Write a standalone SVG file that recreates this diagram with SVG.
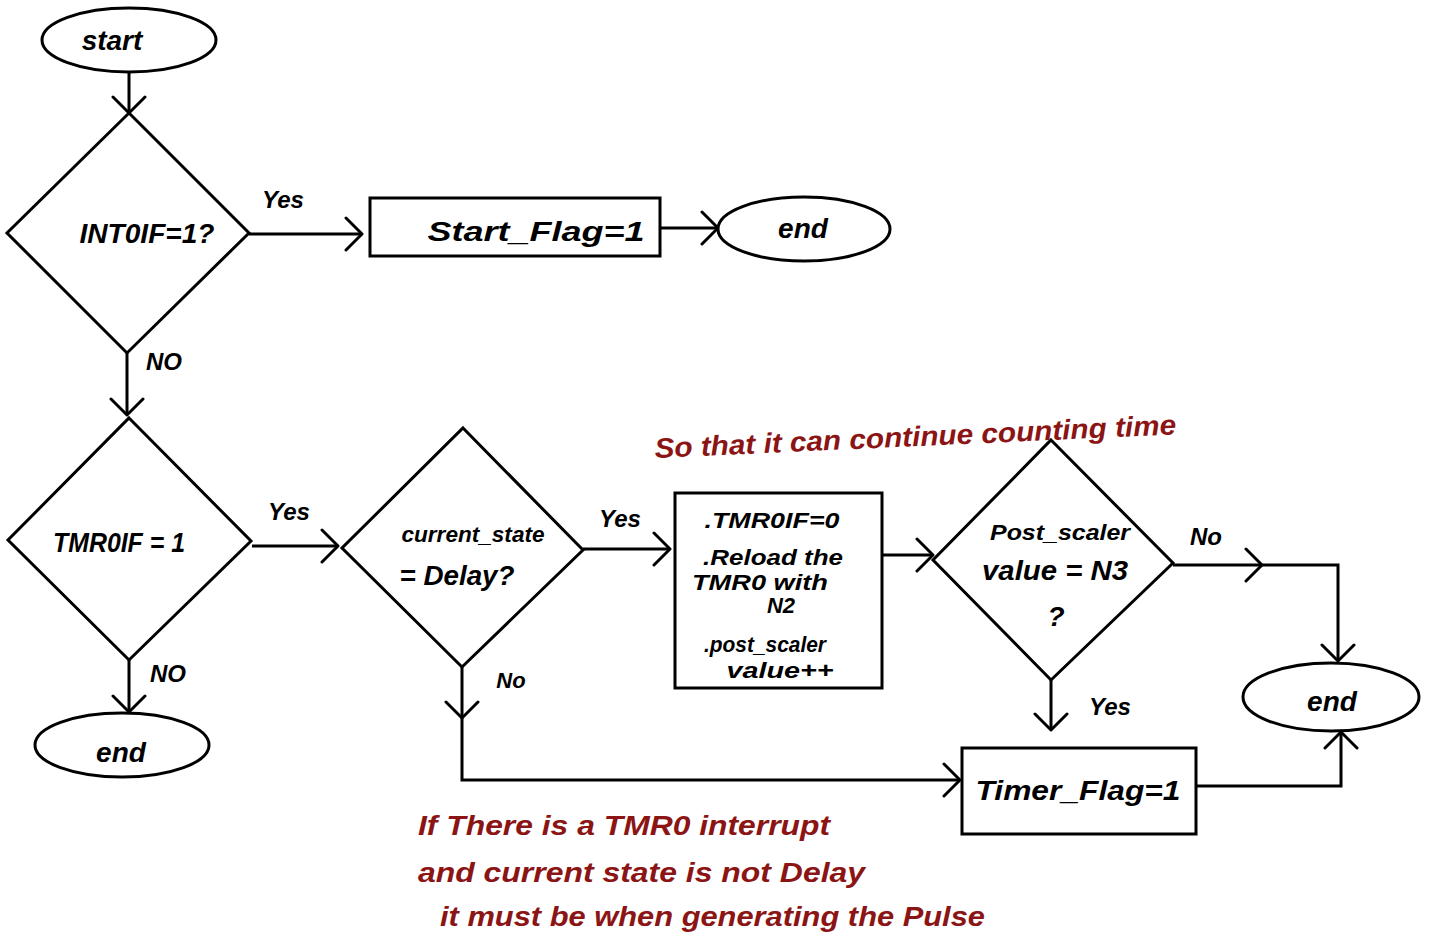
<svg xmlns="http://www.w3.org/2000/svg" width="1430" height="947" viewBox="0 0 1430 947">
<defs>
<marker id="arr" viewBox="-18 -18 21 36" refX="0" refY="0" markerWidth="21" markerHeight="36" markerUnits="userSpaceOnUse" orient="auto">
<path d="M-16,-16 L0,0 L-16,16" fill="none" stroke="#000" stroke-width="3" stroke-linecap="round" stroke-linejoin="round"/>
</marker>
</defs>
<style>
.shape{fill:#fff;stroke:#000;stroke-width:3}
.line{fill:none;stroke:#000;stroke-width:3}
.arrow{fill:none;stroke:#000;stroke-width:3;marker-end:url(#arr)}
text{font-family:"Liberation Sans","DejaVu Sans",sans-serif;fill:#000;font-weight:bold}
.t{font-size:28px;font-style:italic}
.s{font-size:22px;font-style:italic}
.lbl{font-size:24px;font-style:italic}
.note{font-size:28px;font-style:italic;fill:#8b1414}
</style>
<rect width="1430" height="947" fill="#fff"/>
<g id="connectors">
<path class="arrow" d="M129,72 L129,113"/>
<path class="arrow" d="M249,234 L362,234"/>
<path class="arrow" d="M660,228 L718,228"/>
<path class="arrow" d="M127,353 L127,415"/>
<path class="arrow" d="M252,546 L338,546"/>
<path class="arrow" d="M129,660 L129,712"/>
<path class="arrow" d="M462,667 L462,718"/>
<path class="arrow" d="M462,718 L462,780 L960,780"/>
<path class="arrow" d="M583,549 L670,549"/>
<path class="arrow" d="M882,555 L933,555"/>
<path class="arrow" d="M1173,565 L1262,565"/>
<path class="arrow" d="M1262,565 L1338,565 L1338,661"/>
<path class="arrow" d="M1051,680 L1051,730"/>
<path class="arrow" d="M1196,786 L1341,786 L1341,732"/>
<text class="lbl" x="283" y="208" text-anchor="middle">Yes</text>
<text class="lbl" x="164" y="370" text-anchor="middle">NO</text>
<text class="lbl" x="289" y="520" text-anchor="middle">Yes</text>
<text class="lbl" x="168" y="682" text-anchor="middle">NO</text>
<text class="s" x="511" y="688" text-anchor="middle">No</text>
<text class="lbl" x="620" y="527" text-anchor="middle">Yes</text>
<text class="lbl" x="1206" y="545" text-anchor="middle">No</text>
<text class="lbl" x="1110" y="715" text-anchor="middle">Yes</text>
</g>
<g id="start">
<ellipse class="shape" cx="129" cy="40" rx="87" ry="32"/>
<text class="t" x="112" y="50" text-anchor="middle">start</text>
</g>
<g id="int0if">
<polygon class="shape" points="129,113 249,233 127,353 7,233"/>
<text class="t" x="147" y="243" text-anchor="middle" textLength="135" lengthAdjust="spacingAndGlyphs">INT0IF=1?</text>
</g>
<g id="start_flag">
<rect class="shape" x="370" y="198" width="290" height="58"/>
<text class="t" x="536" y="241" text-anchor="middle" textLength="217" lengthAdjust="spacingAndGlyphs">Start_Flag=1</text>
</g>
<g id="end1">
<ellipse class="shape" cx="804" cy="229" rx="86" ry="32"/>
<text class="t" x="803" y="238" text-anchor="middle">end</text>
</g>
<g id="tmr0if">
<polygon class="shape" points="129,418 251,541 129,660 8,540"/>
<text class="t" x="119" y="552" text-anchor="middle" textLength="132" lengthAdjust="spacingAndGlyphs">TMR0IF = 1</text>
</g>
<g id="end2">
<ellipse class="shape" cx="122" cy="745" rx="87" ry="32"/>
<text class="t" x="121" y="762" text-anchor="middle">end</text>
</g>
<g id="current_state">
<polygon class="shape" points="463,428 583,550 462,667 342,548"/>
<text class="s" x="473" y="542" text-anchor="middle" textLength="143" lengthAdjust="spacingAndGlyphs">current_state</text>
<text class="t" x="457" y="585" text-anchor="middle" textLength="115" lengthAdjust="spacingAndGlyphs">= Delay?</text>
</g>
<g id="reload">
<rect class="shape" x="675" y="493" width="207" height="195"/>
<text class="s" x="772" y="528" text-anchor="middle" textLength="135" lengthAdjust="spacingAndGlyphs">.TMR0IF=0</text>
<text class="s" x="773" y="565" text-anchor="middle" textLength="140" lengthAdjust="spacingAndGlyphs">.Reload the</text>
<text class="s" x="760" y="590" text-anchor="middle" textLength="136" lengthAdjust="spacingAndGlyphs">TMR0 with</text>
<text class="s" x="781" y="613" text-anchor="middle">N2</text>
<text class="s" x="765" y="652" text-anchor="middle" textLength="122" lengthAdjust="spacingAndGlyphs">.post_scaler</text>
<text class="s" x="780" y="678" text-anchor="middle" textLength="107" lengthAdjust="spacingAndGlyphs">value++</text>
</g>
<g id="post_scaler">
<polygon class="shape" points="1051,440 1173,563 1051,680 933,560"/>
<text class="s" x="1060" y="540" text-anchor="middle" textLength="140" lengthAdjust="spacingAndGlyphs">Post_scaler</text>
<text class="t" x="1055" y="580" text-anchor="middle" textLength="146" lengthAdjust="spacingAndGlyphs">value = N3</text>
<text class="t" x="1056" y="626" text-anchor="middle">?</text>
</g>
<g id="end3">
<ellipse class="shape" cx="1331" cy="697" rx="88" ry="34"/>
<text class="t" x="1332" y="711" text-anchor="middle">end</text>
</g>
<g id="timer_flag">
<rect class="shape" x="962" y="748" width="234" height="86"/>
<text class="t" x="1078" y="800" text-anchor="middle" textLength="205" lengthAdjust="spacingAndGlyphs">Timer_Flag=1</text>
</g>
<g id="notes">
<text class="note" x="655" y="458" transform="rotate(-2.6 655 458)" textLength="522" lengthAdjust="spacingAndGlyphs">So that it can continue counting time</text>
<text class="note" x="418" y="835" textLength="412" lengthAdjust="spacingAndGlyphs">If There is a TMR0 interrupt</text>
<text class="note" x="418" y="882" textLength="447" lengthAdjust="spacingAndGlyphs">and current state is not Delay</text>
<text class="note" x="440" y="926" textLength="545" lengthAdjust="spacingAndGlyphs">it must be when generating the Pulse</text>
</g>
</svg>
